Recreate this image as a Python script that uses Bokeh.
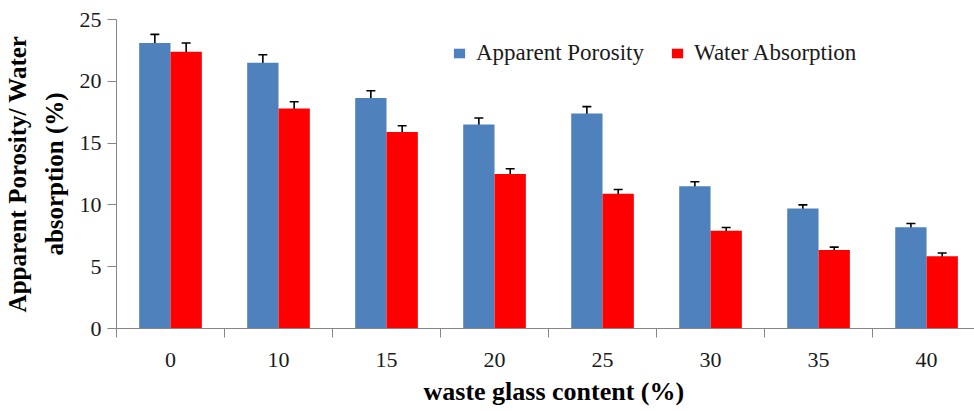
from bokeh.plotting import figure
from bokeh.models import (ColumnDataSource, Whisker, TeeHead, FixedTicker,
                          Legend, LegendItem, Range1d, Title)
from bokeh.transform import dodge
from bokeh.embed import file_html
from bokeh.resources import INLINE

# waste glass content (%) per batch
categories = ["0", "10", "15", "20", "25", "30", "35", "40"]

# apparent porosity (%) and its standard deviation
porosity = [23.1, 21.5, 18.65, 16.5, 17.4, 11.5, 9.7, 8.2]
porosity_err = [0.7, 0.65, 0.58, 0.53, 0.55, 0.37, 0.3, 0.3]

# water absorption (%) and its standard deviation
absorption = [22.4, 17.8, 15.9, 12.5, 10.9, 7.9, 6.35, 5.85]
absorption_err = [0.7, 0.55, 0.5, 0.43, 0.35, 0.27, 0.23, 0.26]

y_ticks = [0, 5, 10, 15, 20, 25]

x_title = "waste glass content (%)"
y_title_lines = ["Apparent Porosity/ Water", "absorption (%)"]

BLUE = "#4F81BD"
RED = "#FF0000"
SERIF = "Liberation Serif"
AXIS_GREY = "#868686"
TEXT = "#1a1a1a"

idx = list(range(len(categories)))
source = ColumnDataSource(dict(
    idx=idx,
    por=porosity,
    por_hi=[v + e for v, e in zip(porosity, porosity_err)],
    por_lo=[v - e for v, e in zip(porosity, porosity_err)],
    wa=absorption,
    wa_hi=[v + e for v, e in zip(absorption, absorption_err)],
    wa_lo=[v - e for v, e in zip(absorption, absorption_err)],
))

bar_w = 0.29
off = bar_w / 2

p = figure(width=974, height=411, output_backend="svg", toolbar_location=None,
           x_range=Range1d(-0.5, 7.444), y_range=Range1d(0, 25),
           min_border_left=116, min_border_right=0,
           min_border_top=19, min_border_bottom=83)
p.outline_line_color = None
p.xgrid.visible = False
p.ygrid.visible = False

r_por = p.vbar(x=dodge("idx", -off), top="por", width=bar_w, source=source,
               fill_color=BLUE, line_color=None)
r_wa = p.vbar(x=dodge("idx", off), top="wa", width=bar_w, source=source,
              fill_color=RED, line_color=None)

for col, shift in (("por", -off), ("wa", off)):
    w = Whisker(base=dodge("idx", shift), upper=col + "_hi", lower=col + "_lo",
                source=source, dimension="height", line_color="black",
                line_width=1.6,
                upper_head=TeeHead(size=9, line_width=1.6, line_color="black"),
                lower_head=TeeHead(size=9, line_width=1.6, line_color="black"))
    p.add_layout(w)

# x axis: labels at category centres, tick marks between categories
xa = p.xaxis[0]
xa.ticker = FixedTicker(ticks=idx, minor_ticks=[i - 0.5 for i in range(len(categories) + 1)])
xa.major_label_overrides = {i: c for i, c in zip(idx, categories)}
xa.major_tick_out = 0
xa.major_tick_in = 0
xa.minor_tick_out = 9
xa.minor_tick_in = 0
xa.minor_tick_line_color = AXIS_GREY
xa.axis_line_color = AXIS_GREY
xa.major_label_standoff = 15
xa.major_label_text_font = SERIF
xa.major_label_text_font_size = "22px"
xa.major_label_text_color = TEXT

ya = p.yaxis[0]
ya.ticker = FixedTicker(ticks=y_ticks)
ya.minor_tick_line_color = None
ya.major_tick_out = 9
ya.major_tick_in = 0
ya.major_tick_line_color = AXIS_GREY
ya.axis_line_color = AXIS_GREY
ya.major_label_standoff = 6
ya.major_label_text_font = SERIF
ya.major_label_text_font_size = "22px"
ya.major_label_text_color = TEXT

# two-line y title: the inner line goes in first so it sits next to the axis
for line, gap in zip(reversed(y_title_lines), (17, 0)):
    p.add_layout(Title(text=line, align="center", standoff=gap,
                       text_font=SERIF, text_font_style="bold",
                       text_font_size="25px", text_color="black"), "left")

p.add_layout(Title(text=x_title, align="left", offset=307, standoff=10,
                   text_font=SERIF, text_font_style="bold",
                   text_font_size="26px", text_color="black"), "below")

legend = Legend(items=[LegendItem(label="Apparent Porosity", renderers=[r_por]),
                       LegendItem(label="Water Absorption", renderers=[r_wa])],
                orientation="horizontal", location=(336, 262),
                border_line_color=None, background_fill_alpha=0,
                padding=0, margin=0, spacing=26, label_standoff=10,
                glyph_width=14, glyph_height=12,
                label_text_font=SERIF, label_text_font_size="23px",
                label_text_color=TEXT)
p.add_layout(legend)

open("out.html", "w").write(file_html(p, INLINE))
